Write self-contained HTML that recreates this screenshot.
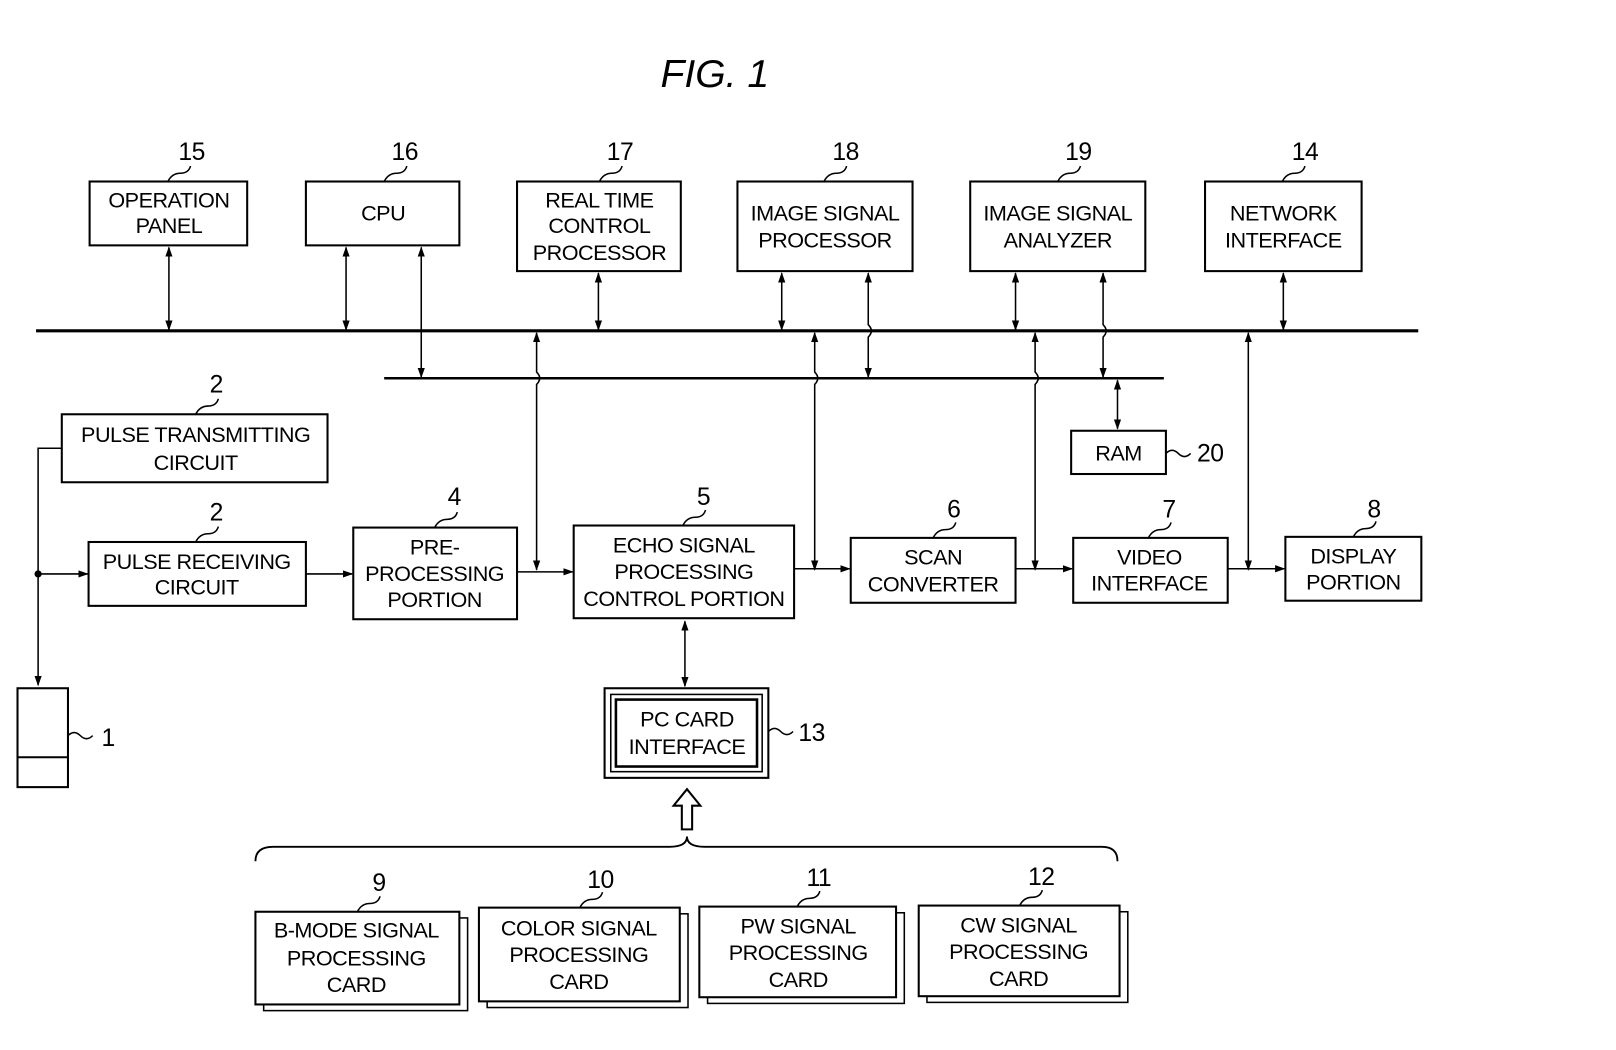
<!DOCTYPE html>
<html><head><meta charset="utf-8"><style>
html,body{margin:0;padding:0;background:#fff}
svg{display:block}
text{font-family:"Liberation Sans",sans-serif;fill:#000}
</style></head><body>
<svg width="1616" height="1050" viewBox="0 0 1569 1019" xmlns="http://www.w3.org/2000/svg">
<defs>
<marker id="a" markerWidth="10" markerHeight="10" refX="9" refY="5" orient="auto-start-reverse" markerUnits="userSpaceOnUse"><path d="M0,1.5 L10,5 L0,8.5 Z" fill="#000"/></marker>
</defs>
<text x="694" y="84" font-size="38" font-style="italic" text-anchor="middle">FIG. 1</text>
<g stroke="#000" stroke-width="2" fill="none">
<rect x="87" y="176" width="153" height="62"/>
<rect x="297" y="176" width="149" height="62"/>
<rect x="502" y="176" width="159" height="87"/>
<rect x="716" y="176" width="170" height="87"/>
<rect x="942" y="176" width="170" height="87"/>
<rect x="1170" y="176" width="152" height="87"/>
<line x1="35" y1="321" x2="1377" y2="321" stroke-width="3"/>
<line x1="373" y1="367" x2="1130" y2="367" stroke-width="2.5"/>
<g marker-start="url(#a)" marker-end="url(#a)" stroke-width="1.5">
<line x1="164" y1="240" x2="164" y2="320"/>
<line x1="336" y1="240" x2="336" y2="320"/>
<line x1="409" y1="240" x2="409" y2="366"/>
<line x1="581" y1="265" x2="581" y2="320"/>
<line x1="759" y1="265" x2="759" y2="320"/>
<path d="M843,265 V315 q6,6 0,12 V366"/>
<line x1="986" y1="265" x2="986" y2="320"/>
<path d="M1071,265 V315 q6,6 0,12 V366"/>
<line x1="1246" y1="265" x2="1246" y2="320"/>
<line x1="1085" y1="369" x2="1085" y2="416"/>
<path d="M521,323 V361 q6,6 0,12 V553"/>
<path d="M791,323 V361 q6,6 0,12 V553"/>
<path d="M1005,323 V361 q6,6 0,12 V553"/>
<line x1="1212" y1="323" x2="1212" y2="553"/>
<line x1="665" y1="603" x2="665" y2="666"/>
</g>
<rect x="1040" y="418" width="92" height="42"/>
<rect x="60" y="402" width="258" height="66"/>
<rect x="86" y="526" width="211" height="62"/>
<path d="M60,435 H37 V560" stroke-width="1.5"/>
<line x1="37" y1="556" x2="37" y2="665" stroke-width="1.5" marker-end="url(#a)"/>
<line x1="37" y1="557" x2="85" y2="557" stroke-width="1.5" marker-end="url(#a)"/>
<circle cx="37" cy="557" r="2.5" fill="#000"/>
<rect x="17" y="668" width="49" height="96"/>
<line x1="17" y1="735" x2="66" y2="735"/>
<rect x="343" y="512" width="159" height="89"/>
<rect x="557" y="510" width="214" height="90"/>
<rect x="826" y="522" width="160" height="63"/>
<rect x="1042" y="522" width="150" height="63"/>
<rect x="1248" y="521" width="132" height="62"/>
<g stroke-width="1.5" marker-end="url(#a)">
<line x1="297" y1="557" x2="342" y2="557"/>
<line x1="502" y1="555" x2="556" y2="555"/>
<line x1="771" y1="552" x2="825" y2="552"/>
<line x1="986" y1="552" x2="1041" y2="552"/>
<line x1="1192" y1="552" x2="1247" y2="552"/>
</g>
<rect x="587" y="668" width="159" height="87"/>
<rect x="593" y="674" width="147" height="75" stroke-width="1.5"/>
<rect x="598" y="679" width="137" height="65" stroke-width="2.5"/>
<path d="M662,805 V782 H654 L667,766 L680,782 H672 V805 Z" stroke-width="2"/>
<path d="M248,836 Q248,822 265,822 H650 Q667,822 667,812 Q667,822 684,822 H1070 Q1085,822 1085,836" stroke-width="1.8"/>
<rect x="256" y="891" width="198" height="90" stroke-width="1.5"/>
<rect x="248" y="885" width="198" height="90" fill="#fff"/>
<rect x="473" y="887" width="195" height="91" stroke-width="1.5"/>
<rect x="465" y="881" width="195" height="91" fill="#fff"/>
<rect x="687" y="886" width="191" height="88" stroke-width="1.5"/>
<rect x="679" y="880" width="191" height="88" fill="#fff"/>
<rect x="900" y="885" width="195" height="88" stroke-width="1.5"/>
<rect x="892" y="879" width="195" height="88" fill="#fff"/>
<g stroke-width="1.5">
<path d="M163,176 q4,-8 12,-8 q8,0 10,-7"/>
<path d="M373,176 q4,-8 12,-8 q8,0 10,-7"/>
<path d="M582,176 q4,-8 12,-8 q8,0 10,-7"/>
<path d="M800,176 q4,-8 12,-8 q8,0 10,-7"/>
<path d="M1027,176 q4,-8 12,-8 q8,0 10,-7"/>
<path d="M1245,176 q4,-8 12,-8 q8,0 10,-7"/>
<path d="M190,402 q4,-8 12,-8 q8,0 10,-7"/>
<path d="M190,526 q4,-8 12,-8 q8,0 10,-7"/>
<path d="M422,512 q4,-8 12,-8 q8,0 10,-7"/>
<path d="M663,510 q4,-8 12,-8 q8,0 10,-7"/>
<path d="M906,522 q4,-8 12,-8 q8,0 10,-7"/>
<path d="M1115,522 q4,-8 12,-8 q8,0 10,-7"/>
<path d="M1314,521 q4,-8 12,-8 q8,0 10,-7"/>
<path d="M347,885 q4,-8 12,-8 q8,0 10,-7"/>
<path d="M563,881 q4,-8 12,-8 q8,0 10,-7"/>
<path d="M774,880 q4,-8 12,-8 q8,0 10,-7"/>
<path d="M990,879 q4,-8 12,-8 q8,0 10,-7"/>
<path d="M1132,440 q6,-6 12,0 q6,6 12,0"/>
<path d="M66,714 q6,-6 12,0 q6,6 12,0"/>
<path d="M746,710 q6,-6 12,0 q6,6 12,0"/>
</g>
</g>
<g font-size="21" text-anchor="middle" letter-spacing="-0.5">
<text x="186" y="155" font-size="24">15</text>
<text x="393" y="155" font-size="24">16</text>
<text x="602" y="155" font-size="24">17</text>
<text x="821" y="155" font-size="24">18</text>
<text x="1047" y="155" font-size="24">19</text>
<text x="1267" y="155" font-size="24">14</text>
<text x="210" y="381" font-size="24">2</text>
<text x="210" y="505" font-size="24">2</text>
<text x="441" y="490" font-size="24">4</text>
<text x="683" y="490" font-size="24">5</text>
<text x="926" y="502" font-size="24">6</text>
<text x="1135" y="502" font-size="24">7</text>
<text x="1334" y="502" font-size="24">8</text>
<text x="1175" y="448" font-size="24">20</text>
<text x="105" y="724" font-size="24">1</text>
<text x="788" y="719" font-size="24">13</text>
<text x="368" y="865" font-size="24">9</text>
<text x="583" y="862" font-size="24">10</text>
<text x="795" y="860" font-size="24">11</text>
<text x="1011" y="859" font-size="24">12</text>
<text x="164" y="201">OPERATION</text><text x="164" y="226">PANEL</text>
<text x="372" y="214">CPU</text>
<text x="582" y="201">REAL TIME</text><text x="582" y="226">CONTROL</text><text x="582" y="252">PROCESSOR</text>
<text x="801" y="214">IMAGE SIGNAL</text><text x="801" y="240">PROCESSOR</text>
<text x="1027" y="214">IMAGE SIGNAL</text><text x="1027" y="240">ANALYZER</text>
<text x="1246" y="214">NETWORK</text><text x="1246" y="240">INTERFACE</text>
<text x="1086" y="447">RAM</text>
<text x="190" y="429">PULSE TRANSMITTING</text><text x="190" y="456">CIRCUIT</text>
<text x="191" y="552">PULSE RECEIVING</text><text x="191" y="577">CIRCUIT</text>
<text x="422" y="538">PRE-</text><text x="422" y="564">PROCESSING</text><text x="422" y="589">PORTION</text>
<text x="664" y="536">ECHO SIGNAL</text><text x="664" y="562">PROCESSING</text><text x="664" y="588">CONTROL PORTION</text>
<text x="906" y="548">SCAN</text><text x="906" y="574">CONVERTER</text>
<text x="1116" y="548">VIDEO</text><text x="1116" y="573">INTERFACE</text>
<text x="1314" y="547">DISPLAY</text><text x="1314" y="572">PORTION</text>
<text x="667" y="705">PC CARD</text><text x="667" y="732">INTERFACE</text>
<text x="346" y="910">B-MODE SIGNAL</text><text x="346" y="937">PROCESSING</text><text x="346" y="963">CARD</text>
<text x="562" y="908">COLOR SIGNAL</text><text x="562" y="934">PROCESSING</text><text x="562" y="960">CARD</text>
<text x="775" y="906">PW SIGNAL</text><text x="775" y="932">PROCESSING</text><text x="775" y="958">CARD</text>
<text x="989" y="905">CW SIGNAL</text><text x="989" y="931">PROCESSING</text><text x="989" y="957">CARD</text>
</g>
</svg>
</body></html>
